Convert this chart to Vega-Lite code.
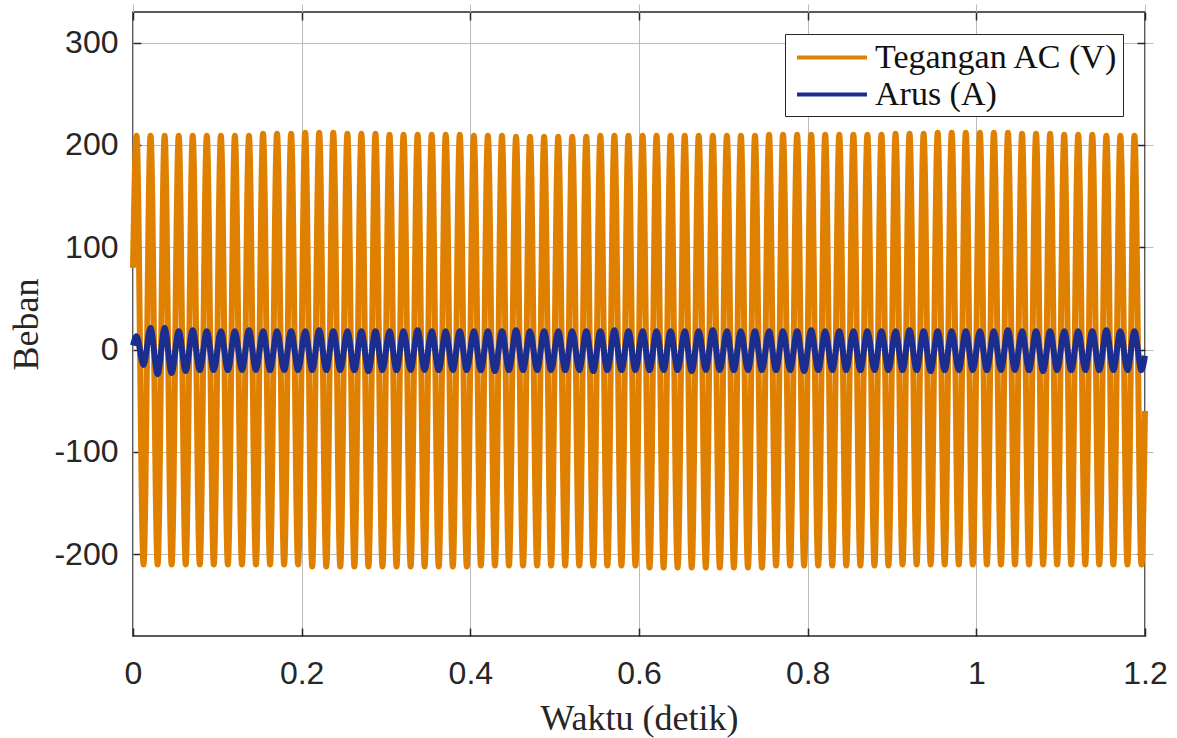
{
"$schema": "https://vega.github.io/schema/vega-lite/v6.json",
"width": 1012,
"height": 624,
"autosize": {"type": "none"},
"padding": {"left": 133, "top": 12, "right": 32, "bottom": 102},
"background": "white",
"config": {
  "view": {"stroke": "#262626", "strokeWidth": 1.5},
  "axis": {"domain": false, "tickColor": "#262626", "tickWidth": 1.5, "tickSize": 8, "offset": -8, "labelFlush": false, "gridColor": "#bcbcbc", "gridWidth": 1, "labelFont": "Liberation Sans", "labelFontSize": 32, "labelColor": "#262626", "titleFont": "Liberation Serif", "titleFontSize": 36, "titleFontWeight": "normal", "titleColor": "#262626"}
},
"data": {"values": [
{"t":0,"V":80,"A":4},
{"t":0.0042,"V":209,"A":13},{"t":0.0125,"V":-210,"A":-15},{"t":0.0208,"V":209,"A":21},{"t":0.0292,"V":-210,"A":-24},{"t":0.0375,"V":209,"A":21},{"t":0.0458,"V":-210,"A":-23},
{"t":0.0542,"V":209,"A":18},{"t":0.0625,"V":-210,"A":-21},{"t":0.0708,"V":209,"A":19},{"t":0.0792,"V":-210,"A":-20},{"t":0.0875,"V":209,"A":18},{"t":0.0958,"V":-210,"A":-20},
{"t":0.1042,"V":209,"A":18},{"t":0.1125,"V":-210,"A":-20},{"t":0.1208,"V":209,"A":18},{"t":0.1292,"V":-210,"A":-20},{"t":0.1375,"V":209,"A":19},{"t":0.1458,"V":-210,"A":-20},
{"t":0.1542,"V":211,"A":18},{"t":0.1625,"V":-210,"A":-20},{"t":0.1708,"V":211,"A":18},{"t":0.1792,"V":-210,"A":-20},{"t":0.1875,"V":211,"A":18},{"t":0.1958,"V":-210,"A":-20},
{"t":0.2042,"V":212,"A":18},{"t":0.2125,"V":-212,"A":-20},{"t":0.2208,"V":212,"A":19},{"t":0.2292,"V":-212,"A":-20},{"t":0.2375,"V":212,"A":18},{"t":0.2458,"V":-212,"A":-20},
{"t":0.2542,"V":211,"A":18},{"t":0.2625,"V":-212,"A":-20},{"t":0.2708,"V":211,"A":18},{"t":0.2792,"V":-212,"A":-21},{"t":0.2875,"V":211,"A":18},{"t":0.2958,"V":-212,"A":-20},
{"t":0.3042,"V":210,"A":18},{"t":0.3125,"V":-212,"A":-20},{"t":0.3208,"V":210,"A":18},{"t":0.3292,"V":-212,"A":-20},{"t":0.3375,"V":210,"A":19},{"t":0.3458,"V":-212,"A":-20},
{"t":0.3542,"V":210,"A":18},{"t":0.3625,"V":-212,"A":-20},{"t":0.3708,"V":210,"A":18},{"t":0.3792,"V":-212,"A":-20},{"t":0.3875,"V":210,"A":18},{"t":0.3958,"V":-212,"A":-20},
{"t":0.4042,"V":209,"A":18},{"t":0.4125,"V":-211,"A":-20},{"t":0.4208,"V":209,"A":18},{"t":0.4292,"V":-211,"A":-21},{"t":0.4375,"V":209,"A":18},{"t":0.4458,"V":-211,"A":-20},
{"t":0.4542,"V":208,"A":19},{"t":0.4625,"V":-211,"A":-20},{"t":0.4708,"V":208,"A":18},{"t":0.4792,"V":-211,"A":-20},{"t":0.4875,"V":208,"A":18},{"t":0.4958,"V":-211,"A":-20},
{"t":0.5042,"V":208,"A":18},{"t":0.5125,"V":-211,"A":-20},{"t":0.5208,"V":208,"A":18},{"t":0.5292,"V":-211,"A":-20},{"t":0.5375,"V":208,"A":18},{"t":0.5458,"V":-211,"A":-21},
{"t":0.5542,"V":209,"A":18},{"t":0.5625,"V":-211,"A":-20},{"t":0.5708,"V":209,"A":19},{"t":0.5792,"V":-211,"A":-20},{"t":0.5875,"V":209,"A":18},{"t":0.5958,"V":-211,"A":-20},
{"t":0.6042,"V":209,"A":18},{"t":0.6125,"V":-213,"A":-20},{"t":0.6208,"V":209,"A":18},{"t":0.6292,"V":-213,"A":-20},{"t":0.6375,"V":209,"A":18},{"t":0.6458,"V":-213,"A":-20},
{"t":0.6542,"V":209,"A":18},{"t":0.6625,"V":-213,"A":-21},{"t":0.6708,"V":209,"A":18},{"t":0.6792,"V":-213,"A":-20},{"t":0.6875,"V":209,"A":19},{"t":0.6958,"V":-213,"A":-20},
{"t":0.7042,"V":209,"A":18},{"t":0.7125,"V":-213,"A":-20},{"t":0.7208,"V":209,"A":18},{"t":0.7292,"V":-213,"A":-20},{"t":0.7375,"V":209,"A":18},{"t":0.7458,"V":-213,"A":-20},
{"t":0.7542,"V":210,"A":18},{"t":0.7625,"V":-211,"A":-20},{"t":0.7708,"V":210,"A":18},{"t":0.7792,"V":-211,"A":-20},{"t":0.7875,"V":210,"A":18},{"t":0.7958,"V":-211,"A":-21},
{"t":0.8042,"V":210,"A":19},{"t":0.8125,"V":-211,"A":-20},{"t":0.8208,"V":210,"A":18},{"t":0.8292,"V":-211,"A":-20},{"t":0.8375,"V":210,"A":18},{"t":0.8458,"V":-211,"A":-20},
{"t":0.8542,"V":210,"A":18},{"t":0.8625,"V":-211,"A":-20},{"t":0.8708,"V":210,"A":18},{"t":0.8792,"V":-211,"A":-20},{"t":0.8875,"V":210,"A":18},{"t":0.8958,"V":-211,"A":-20},
{"t":0.9042,"V":211,"A":18},{"t":0.9125,"V":-210,"A":-20},{"t":0.9208,"V":211,"A":19},{"t":0.9292,"V":-210,"A":-20},{"t":0.9375,"V":211,"A":18},{"t":0.9458,"V":-210,"A":-21},
{"t":0.9542,"V":212,"A":18},{"t":0.9625,"V":-210,"A":-20},{"t":0.9708,"V":212,"A":18},{"t":0.9792,"V":-210,"A":-20},{"t":0.9875,"V":212,"A":18},{"t":0.9958,"V":-210,"A":-20},
{"t":1.0042,"V":212,"A":18},{"t":1.0125,"V":-210,"A":-20},{"t":1.0208,"V":212,"A":18},{"t":1.0292,"V":-210,"A":-20},{"t":1.0375,"V":212,"A":19},{"t":1.0458,"V":-210,"A":-20},
{"t":1.0542,"V":211,"A":18},{"t":1.0625,"V":-210,"A":-20},{"t":1.0708,"V":211,"A":18},{"t":1.0792,"V":-210,"A":-21},{"t":1.0875,"V":211,"A":18},{"t":1.0958,"V":-210,"A":-20},
{"t":1.1042,"V":210,"A":18},{"t":1.1125,"V":-210,"A":-20},{"t":1.1208,"V":210,"A":18},{"t":1.1292,"V":-210,"A":-20},{"t":1.1375,"V":210,"A":18},{"t":1.1458,"V":-210,"A":-20},
{"t":1.1542,"V":209,"A":19},{"t":1.1625,"V":-210,"A":-20},{"t":1.1708,"V":209,"A":18},{"t":1.1792,"V":-210,"A":-20},{"t":1.1875,"V":209,"A":18},{"t":1.1958,"V":-210,"A":-20},
{"t":1.2,"V":-60,"A":-6}
]},
"layer": [
  {
    "mark": {"type": "line", "interpolate": "monotone", "strokeWidth": 6},
    "encoding": {
      "x": {"field": "t", "type": "quantitative", "scale": {"domain": [0, 1.2], "nice": false, "zero": false},
            "axis": {"orient": "bottom", "title": "Waktu (detik)", "values": [0, 0.2, 0.4, 0.6, 0.8, 1, 1.2], "format": "~g", "labelPadding": 22, "titlePadding": 12, "grid": true}},
      "y": {"field": "V", "type": "quantitative", "scale": {"domain": [-280, 330], "nice": false, "zero": false},
            "axis": {"orient": "left", "title": "Beban", "values": [-200, -100, 0, 100, 200, 300], "labelExpr": "'' + datum.value", "labelPadding": 15, "titlePadding": 8, "grid": true}},
      "color": {"datum": "Tegangan AC (V)", "type": "nominal",
                "scale": {"domain": ["Tegangan AC (V)", "Arus (A)"], "range": ["#e08000", "#1b2d8e"]},
                "legend": {"orient": "none", "legendX": 652, "legendY": 22, "title": null, "strokeColor": "#262626", "fillColor": "white", "padding": 4, "symbolType": "M-0.657,0H3.343", "symbolSize": 1225, "symbolStrokeWidth": 4, "labelFont": "Liberation Serif", "labelFontSize": 34, "labelColor": "#111111", "labelOffset": 47, "labelLimit": 400, "rowPadding": 0, "cornerRadius": 0}}
    }
  },
  {
    "mark": {"type": "line", "interpolate": "monotone", "strokeWidth": 6},
    "encoding": {
      "x": {"field": "t", "type": "quantitative",
            "axis": {"orient": "top", "title": null, "labels": false, "grid": false, "values": [0, 0.2, 0.4, 0.6, 0.8, 1, 1.2]}},
      "y": {"field": "A", "type": "quantitative",
            "axis": {"orient": "right", "title": null, "labels": false, "grid": false, "values": [-200, -100, 0, 100, 200, 300]}},
      "color": {"datum": "Arus (A)", "type": "nominal"}
    }
  }
],
"resolve": {"axis": {"x": "independent", "y": "independent"}}
}
